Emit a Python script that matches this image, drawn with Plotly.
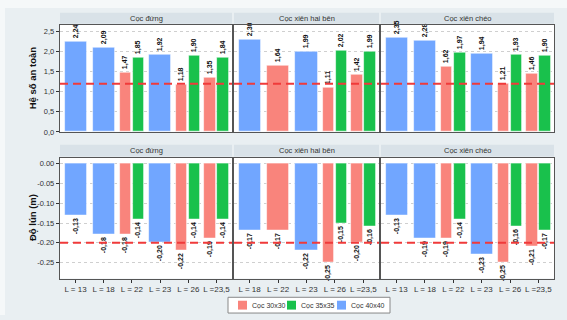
import plotly.graph_objects as go

# ---- data -------------------------------------------------------------
facet_names = ["Cọc đứng", "Cọc xiên hai bên", "Cọc xiên chéo"]
series_names = ["Cọc 30x30", "Cọc 35x35", "Cọc 40x40"]

cats_dung = ["L = 13", "L = 18", "L = 22", "L = 23", "L = 26", "L =23,5"]
cats_hai = ["L = 18", "L = 22", "L = 23", "L = 26", "L =23,5"]
cats_cheo = ["L = 13", "L = 18", "L = 22", "L = 23", "L = 26", "L =23,5"]

# Hệ số an toàn (factor of safety)
fs_dung_30 = [None, None, 1.47, None, 1.18, 1.35]
fs_dung_35 = [None, None, 1.85, None, 1.90, 1.84]
fs_dung_40 = [2.24, 2.09, None, 1.92, None, None]
fs_hai_30 = [None, 1.64, None, 1.11, 1.42]
fs_hai_35 = [None, None, None, 2.02, 1.99]
fs_hai_40 = [2.30, None, 1.99, None, None]
fs_cheo_30 = [None, None, 1.62, None, 1.21, 1.46]
fs_cheo_35 = [None, None, 1.97, None, 1.93, 1.90]
fs_cheo_40 = [2.35, 2.28, None, 1.94, None, None]

# Độ lún (settlement, m)
st_dung_30 = [None, None, -0.18, None, -0.22, -0.19]
st_dung_35 = [None, None, -0.14, None, -0.14, -0.14]
st_dung_40 = [-0.13, -0.18, None, -0.20, None, None]
st_hai_30 = [None, -0.17, None, -0.25, -0.20]
st_hai_35 = [None, None, None, -0.15, -0.16]
st_hai_40 = [-0.17, None, -0.22, None, None]
st_cheo_30 = [None, None, -0.19, None, -0.25, -0.21]
st_cheo_35 = [None, None, -0.14, None, -0.16, -0.17]
st_cheo_40 = [-0.13, -0.19, None, -0.23, None, None]

fs_limit = 1.2
st_limit = -0.20

fs_ticks = [0, 0.5, 1.0, 1.5, 2.0, 2.5]
fs_ticktext = ["0,0", "0,5", "1,0", "1,5", "2,0", "2,5"]
st_ticks = [0, -0.05, -0.10, -0.15, -0.20, -0.25]
st_ticktext = ["0.00", "-0.05", "-0.10", "-0.15", "-0.20", "-0.25"]

# ---- styling ----------------------------------------------------------
W, H = 567, 320
colors = ["#F9847C", "#19C14C", "#71A6FF"]
FONT = "Liberation Sans, Arial, sans-serif"
BG = "#E9EFF2"
STRIP = "#D9E2E8"
BORDER = "#555555"


def fx(p):
    return p / W


def fy(p):
    return 1 - p / H


# panel extents in pixels (left, right) and rows (top, bottom)
panel_cols = [(60, 232), (234, 379), (381, 554)]
rows = [(25, 134), (160, 283)]
strip_rows = [(13, 24), (147, 159)]

facet_cats = [cats_dung, cats_hai, cats_cheo]
fs_data = [
    [fs_dung_30, fs_dung_35, fs_dung_40],
    [fs_hai_30, fs_hai_35, fs_hai_40],
    [fs_cheo_30, fs_cheo_35, fs_cheo_40],
]
st_data = [
    [st_dung_30, st_dung_35, st_dung_40],
    [st_hai_30, st_hai_35, st_hai_40],
    [st_cheo_30, st_cheo_35, st_cheo_40],
]


def fmt(v):
    return f"{v:.2f}".replace(".", ",")


def dodge(series):
    """Position and width for each present bar: lone bars are wide,
    paired bars are dodged side by side."""
    n_cat = len(series[0])
    pos = [[None] * n_cat for _ in series]
    wid = [[None] * n_cat for _ in series]
    for i in range(n_cat):
        present = [k for k, s in enumerate(series) if s[i] is not None]
        if len(present) == 1:
            pos[present[0]][i] = i
            wid[present[0]][i] = 0.78
        else:
            for j, k in enumerate(present):
                pos[k][i] = i + (-0.23 if j == 0 else 0.23)
                wid[k][i] = 0.40
    return pos, wid


fig = go.Figure()
layout = {}
shapes = []
annotations = []

for row, (data, ticks, ticktext, yrange, limit) in enumerate([
    (fs_data, fs_ticks, fs_ticktext, [0, 2.67], fs_limit),
    (st_data, st_ticks, st_ticktext, [-0.29, 0.015], st_limit),
]):
    for col in range(3):
        idx = row * 3 + col + 1
        xa = "x" if idx == 1 else f"x{idx}"
        ya = "y" if idx == 1 else f"y{idx}"
        cats = facet_cats[col]
        series = data[col]
        pos, wid = dodge(series)
        for k, s in enumerate(series):
            xs, ys, ws, ts = [], [], [], []
            for i, v in enumerate(s):
                if v is None:
                    continue
                xs.append(pos[k][i])
                ys.append(v)
                ws.append(wid[k][i])
                ts.append(fmt(v))
            if not xs:
                continue
            fig.add_trace(go.Bar(
                x=xs, y=ys, width=ws, text=ts,
                textposition="outside", textangle=-90,
                textfont=dict(size=7, color="#111111", family=FONT,
                              weight="bold"),
                constraintext="none", cliponaxis=False,
                marker=dict(color=colors[k],
                            line=dict(color="rgba(255,255,255,0.7)", width=0.8)),
                name=series_names[k], showlegend=False,
                xaxis=xa, yaxis=ya,
            ))

        left, right = panel_cols[col]
        top, bottom = rows[row]
        n = len(cats)
        layout["xaxis" if idx == 1 else f"xaxis{idx}"] = dict(
            domain=[fx(left), fx(right)],
            range=[-0.55, n - 1 + 0.55],
            anchor=ya,
            tickvals=list(range(n)),
            ticktext=cats,
            showticklabels=(row == 1),
            ticks="outside" if row == 1 else "",
            ticklen=3, tickcolor="#333333", tickwidth=1,
            tickfont=dict(size=8, color="#333333", family=FONT),
            showgrid=False, zeroline=False,
            showline=True, mirror=True, linecolor=BORDER, linewidth=1.4,
            fixedrange=True,
        )
        layout["yaxis" if idx == 1 else f"yaxis{idx}"] = dict(
            domain=[fy(bottom), fy(top)],
            range=yrange,
            anchor=xa,
            tickvals=ticks,
            ticktext=ticktext,
            showticklabels=(col == 0),
            ticks="outside" if col == 0 else "",
            ticklen=3, tickcolor="#333333", tickwidth=1,
            tickfont=dict(size=7.5, color="#333333", family=FONT),
            showgrid=True, gridcolor="#CFCFCF", griddash="dot", gridwidth=1,
            zeroline=False,
            showline=True, mirror=True, linecolor=BORDER, linewidth=1.4,
            fixedrange=True,
        )

        # threshold line
        shapes.append(dict(
            type="line", xref=f"{xa} domain", yref=ya,
            x0=0, x1=1, y0=limit, y1=limit,
            line=dict(color="#F03A3A", width=2, dash="8px,5px"),
            layer="above",
        ))

        # facet strip
        s_top, s_bot = strip_rows[row]
        shapes.append(dict(
            type="rect", xref="paper", yref="paper",
            x0=fx(left), x1=fx(right), y0=fy(s_bot), y1=fy(s_top),
            fillcolor=STRIP, line=dict(width=0), layer="below",
        ))
        annotations.append(dict(
            text=facet_names[col], xref="paper", yref="paper",
            x=fx((left + right) / 2), y=fy((s_top + s_bot) / 2),
            showarrow=False, xanchor="center", yanchor="middle",
            font=dict(size=7.5, color="#333333", family=FONT),
        ))

# axis titles
for title, (top, bottom) in zip(["Hệ số an toàn", "Độ lún (m)"], rows):
    annotations.append(dict(
        text=f"<b>{title}</b>", xref="paper", yref="paper",
        x=fx(32), y=fy((top + bottom) / 2), textangle=-90,
        showarrow=False, xanchor="center", yanchor="middle",
        font=dict(size=9.5, color="#111111", family=FONT),
    ))

# legend box
shapes.append(dict(
    type="rect", xref="paper", yref="paper",
    x0=fx(228), x1=fx(390), y0=fy(318), y1=fy(302),
    fillcolor="white", line=dict(color="#888888", width=1),
))
legend_x = [238, 287, 337]
for k, lx in enumerate(legend_x):
    shapes.append(dict(
        type="rect", xref="paper", yref="paper",
        x0=fx(lx), x1=fx(lx + 9), y0=fy(314.5), y1=fy(305.5),
        fillcolor=colors[k], line=dict(width=0),
    ))
    annotations.append(dict(
        text=series_names[k], xref="paper", yref="paper",
        x=fx(lx + 12), y=fy(310), showarrow=False,
        xanchor="left", yanchor="middle",
        font=dict(size=7, color="#333333", family=FONT),
    ))

# light outer margin on the left and top edges
shapes.append(dict(type="rect", xref="paper", yref="paper",
                   x0=0, x1=fx(5), y0=0, y1=1,
                   fillcolor="#F5F8F9", line=dict(width=0), layer="below"))
shapes.append(dict(type="rect", xref="paper", yref="paper",
                   x0=0, x1=1, y0=fy(8), y1=1,
                   fillcolor="#F5F8F9", line=dict(width=0), layer="below"))

fig.update_layout(
    width=W, height=H,
    margin=dict(l=0, r=0, t=0, b=0),
    paper_bgcolor=BG, plot_bgcolor="white",
    barmode="overlay", bargap=0,
    shapes=shapes, annotations=annotations,
    showlegend=False,
    font=dict(family=FONT),
    **layout,
)

fig.write_html("out.html", config={"displayModeBar": False})
